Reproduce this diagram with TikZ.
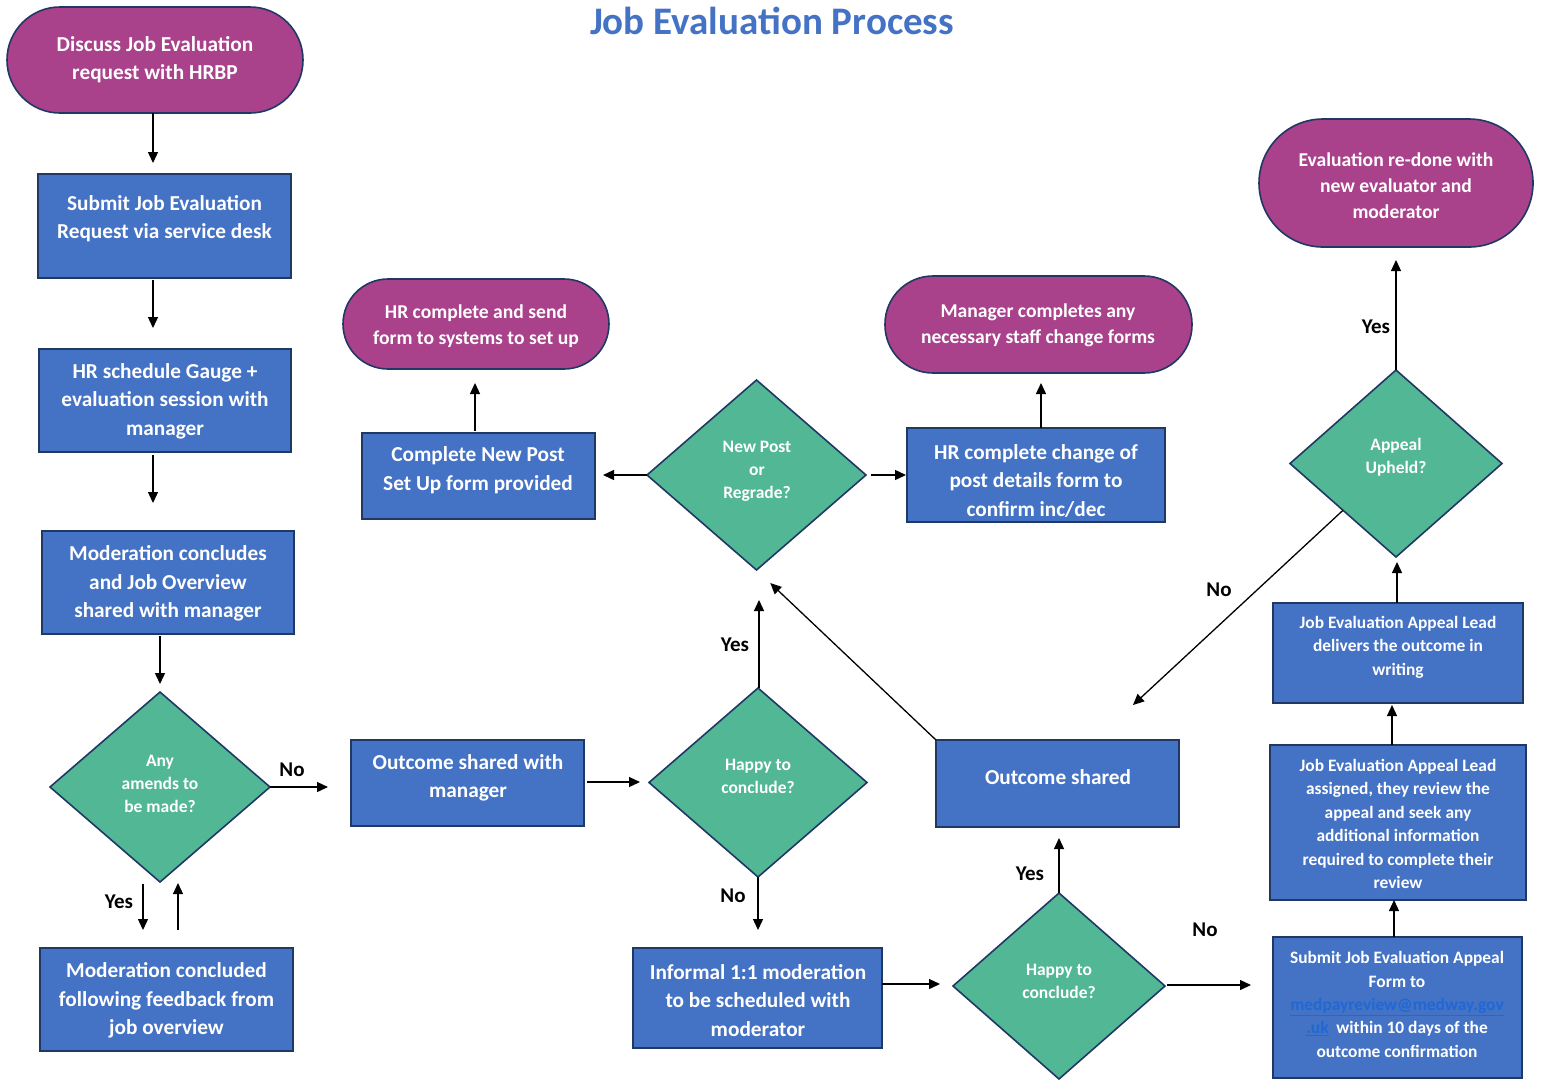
\documentclass[tikz,border=0pt]{standalone}
\usepackage{fontspec}
\setmainfont{Carlito}
\usetikzlibrary{shapes.geometric,arrows.meta,calc}
\definecolor{pillc}{HTML}{A9418B}
\definecolor{boxblue}{HTML}{4472C4}
\definecolor{edgec}{HTML}{203864}
\definecolor{dgreen}{HTML}{52B794}
\definecolor{titlec}{HTML}{4472C4}
\definecolor{linkc}{HTML}{1F68D6}
\begin{document}
\begin{tikzpicture}[x=1pt,y=-1pt,
  shapebase/.style={draw=edgec, line width=1.6pt, inner sep=0pt, outer sep=0pt},
  boxn/.style={shapebase, rectangle, fill=boxblue},
  pilln/.style={shapebase, rectangle, fill=pillc, rounded corners=#1},
  dian/.style={shapebase, diamond, fill=dgreen},
  txt/.style={text=white, font=\fontsize{21.3}{28.5}\selectfont\bfseries, align=center, inner sep=0pt, yshift=-1.5pt},
  dtxt/.style={text=white, font=\fontsize{17.5}{23}\selectfont\bfseries, align=center, inner sep=0pt, yshift=-1.5pt},
  ptxt/.style={text=white, font=\fontsize{19.6}{26}\selectfont\bfseries, align=center, inner sep=0pt, yshift=-1.5pt},
  rtxt/.style={text=white, font=\fontsize{17.4}{23.4}\selectfont\bfseries, align=center, inner sep=0pt, yshift=-1pt},
  lab/.style={text=black, font=\fontsize{21}{24}\selectfont\bfseries, inner sep=0pt},
  arr/.style={draw=black, line width=1.3pt, -{Triangle[length=11pt,width=10pt]}}
]
\useasboundingbox (0,0) rectangle (1541,1080);
\fill[white] (0,0) rectangle (1541,1080);

% title
\node[text=titlec, font=\fontsize{39}{42}\selectfont\bfseries, inner sep=0pt] (title) at (772,21) {Job Evaluation Process};

% left column
\node[pilln=53pt, minimum width=296pt, minimum height=106pt] (p1) at (155,60) {};
\node[txt] (p1t) at (155,58) {Discuss Job Evaluation\\request with HRBP};

\node[boxn, minimum width=253pt, minimum height=104pt] (b1) at (164.5,226) {};
\node[txt] (b1t) at (164.5,217) {Submit Job Evaluation\\Request via service desk};

\node[boxn, minimum width=252pt, minimum height=103pt] (b2) at (165,400.5) {};
\node[txt] (b2t) at (165,399.5) {HR schedule Gauge +\\evaluation session with\\manager};

\node[boxn, minimum width=252pt, minimum height=103pt] (b3) at (168,582.5) {};
\node[txt] (b3t) at (168,582) {Moderation concludes\\and Job Overview\\shared with manager};

\node[dian, minimum width=220pt, minimum height=190pt] (d1) at (160,787) {};
\node[dtxt] (d1t) at (160,782) {Any\\amends to\\be made?};

\node[boxn, minimum width=253pt, minimum height=103pt] (b4) at (166.5,999.5) {};
\node[txt] (b4t) at (166.5,999) {Moderation concluded\\following feedback from\\job overview};

% middle
\node[boxn, minimum width=233pt, minimum height=86pt] (b5) at (467.5,783) {};
\node[txt] (b5t) at (468,776.5) {Outcome shared with\\manager};

\node[dian, minimum width=218pt, minimum height=189pt] (h1) at (758,782.5) {};
\node[dtxt] (h1t) at (758,774.5) {Happy to\\conclude?};

\node[boxn, minimum width=249pt, minimum height=100pt] (b6) at (757.5,998) {};
\node[txt] (b6t) at (758,999) {Informal 1:1 moderation\\to be scheduled with\\moderator};

\node[dian, minimum width=212pt, minimum height=186pt] (h2) at (1059,986) {};
\node[dtxt] (h2t) at (1059,979.5) {Happy to\\conclude?};

\node[boxn, minimum width=243pt, minimum height=87pt] (b7) at (1057.5,783.5) {};
\node[txt] (b7t) at (1058,776) {Outcome shared};

\node[dian, minimum width=219pt, minimum height=190pt] (d3) at (756.5,475) {};
\node[dtxt] (d3t) at (757,470) {New Post\\or\\Regrade?};

\node[boxn, minimum width=233pt, minimum height=86pt] (b8) at (478.5,476) {};
\node[txt] (b8t) at (478,468.5) {Complete New Post\\Set Up form provided};

\node[boxn, minimum width=258pt, minimum height=94pt] (b9) at (1036,475) {};
\node[txt] (b9t) at (1036,479) {HR complete change of\\post details form to\\confirm inc/dec};

\node[pilln=45pt, minimum width=266pt, minimum height=90pt] (p2) at (476,324) {};
\node[ptxt] (p2t) at (476,325) {HR complete and send\\form to systems to set up};

\node[pilln=48pt, minimum width=307pt, minimum height=97pt] (p3) at (1038.5,324.5) {};
\node[ptxt] (p3t) at (1038,323.5) {Manager completes any\\necessary staff change forms};

% right column
\node[pilln=64pt, minimum width=274pt, minimum height=128pt] (p4) at (1396,183) {};
\node[ptxt] (p4t) at (1396,184) {Evaluation re-done with\\new evaluator and\\moderator};

\node[dian, minimum width=212pt, minimum height=187pt] (d5) at (1396,463.5) {};
\node[dtxt] (d5t) at (1396,456) {Appeal\\Upheld?};

\node[boxn, minimum width=250pt, minimum height=100pt] (a3) at (1398,653) {};
\node[rtxt] (a3t) at (1398,646) {Job Evaluation Appeal Lead\\delivers the outcome in\\writing};

\node[boxn, minimum width=256pt, minimum height=155pt] (a2) at (1398,822.5) {};
\node[rtxt] (a2t) at (1398,823) {Job Evaluation Appeal Lead\\assigned, they review the\\appeal and seek any\\additional information\\required to complete their\\review};

\node[boxn, minimum width=249pt, minimum height=141pt] (a1) at (1397.5,1007.5) {};
\node[rtxt] (a1t) at (1397,1003.5) {Submit Job Evaluation Appeal\\Form to\\{\color{linkc}\underline{medpayreview@medway.gov}}\\{\color{linkc}\underline{.uk}}\ \ within 10 days of the\\outcome confirmation};

% connectors
\draw[arr, shorten >=11pt] ([xshift=-2pt]p1.south) -- ([xshift=-11.5pt]b1.north);
\draw[arr, shorten <=2pt, shorten >=21pt] ([xshift=-11.5pt]b1.south) -- ([xshift=-12pt]b2.north);
\draw[arr, shorten <=3pt, shorten >=28pt] ([xshift=-12pt]b2.south) -- ([xshift=-15pt]b3.north);
\draw[arr, shorten <=2pt, shorten >=8pt] ([xshift=-8pt]b3.south) -- (d1.north);
\draw[arr, shorten >=23pt] (d1.east) -- ([yshift=-4pt]b5.west);
\draw[arr, shorten >=18pt] ([xshift=-17pt,yshift=-2pt]d1.south) -- ([xshift=-23.5pt]b4.north);
\draw[arr, shorten <=18pt, shorten >=1pt] ([xshift=11.5pt]b4.north) -- ([xshift=18pt]d1.south);
\draw[arr, shorten <=3pt, shorten >=9pt] ([yshift=1pt]b5.east) -- ([yshift=0.5pt]h1.west);
\draw[arr, shorten >=30pt] ([xshift=1pt]h1.north) -- ([xshift=2.5pt]d3.south);
\draw[arr, shorten >=18pt] (h1.south) -- ([xshift=0.5pt]b6.north);
\draw[arr, shorten >=13pt] ([yshift=14pt]b6.east) -- ([yshift=2pt]h2.west);
\draw[arr, shorten >=11pt] (h2.north) -- ([xshift=1.5pt]b7.south);
\draw[arr, shorten <=2pt, shorten >=22pt] ([yshift=1pt]h2.east) -- ([yshift=22.5pt]a1.west);
\draw[arr, shorten >=19pt] (b7.north west) -- (d3.south);
\draw[arr, shorten >=8pt] (d3.west) -- ([yshift=1pt]b8.east);
\draw[arr, shorten <=5pt, shorten >=1pt] (d3.east) -- (b9.west);
\draw[arr, shorten <=2pt, shorten >=14pt] ([xshift=-3.5pt]b8.north) -- ([xshift=-1pt]p2.south);
\draw[arr, shorten >=10pt] ([xshift=5pt]b9.north) -- ([xshift=2.5pt]p3.south);
\draw[arr] ([xshift=-3.5pt]a1.north) -- ([xshift=-4pt]a2.south);
\draw[arr, shorten >=2pt] ([xshift=-6pt]a2.north) -- ([xshift=-6pt]a3.south);
\draw[arr, shorten >=5pt] ([xshift=-1pt]a3.north) -- ([xshift=1pt]d5.south);
\draw[arr, shorten >=13pt] (d5.north) -- (p4.south);
\coordinate (notip) at ([xshift=-46pt,yshift=35pt]b7.north east);
\draw[arr] (d5.south west) -- (notip);

% labels
\node[lab] (l1) at (292,770) {No};
\node[lab] (l2) at (119,902) {Yes};
\node[lab] (l3) at (735,645) {Yes};
\node[lab] (l4) at (733,896) {No};
\node[lab] (l5) at (1030,874) {Yes};
\node[lab] (l6) at (1205,930) {No};
\node[lab] (l7) at (1376,327) {Yes};
\node[lab] (l8) at (1219,590) {No};
\end{tikzpicture}
\end{document}
